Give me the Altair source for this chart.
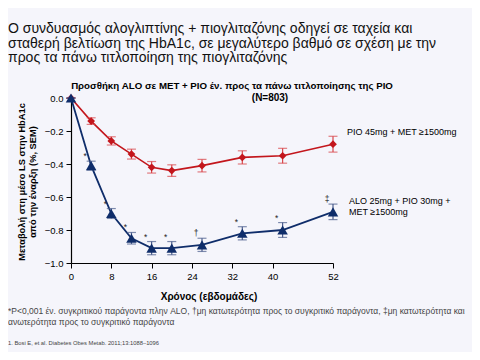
import altair as alt
import pandas as pd

weeks = [0, 4, 8, 12, 16, 20, 26, 34, 42, 52]
pio_mean = [0.0, -0.14, -0.26, -0.34, -0.42, -0.44, -0.41, -0.36, -0.35, -0.28]
pio_sem = [0.0, 0.02, 0.025, 0.03, 0.035, 0.035, 0.038, 0.04, 0.045, 0.048]
alo_mean = [0.0, -0.41, -0.70, -0.85, -0.91, -0.91, -0.89, -0.82, -0.80, -0.69]
alo_sem = [0.0, 0.027, 0.03, 0.035, 0.04, 0.04, 0.04, 0.04, 0.045, 0.047]
alo_marks = ["", "*", "*", "*", "*", "*", "†", "*", "*", "‡"]
x_ticks = [0, 8, 16, 24, 32, 40, 52]
y_ticks = [0.0, -0.2, -0.4, -0.6, -0.8, -1.0]

heading = ("Ο συνδυασμός αλογλιπτίνης + πιογλιταζόνης οδηγεί σε ταχεία και\n"
           "σταθερή βελτίωση της HbA1c, σε μεγαλύτερο βαθμό σε σχέση με την\n"
           "προς τα πάνω τιτλοποίηση της πιογλιταζόνης")
title1 = "Προσθήκη ALO σε MET + PIO έν. προς τα πάνω τιτλοποίησης της PIO"
title2 = "(N=803)"
ytitle = "Μεταβολή στη μέσο LS στην HbA1c\nαπό την έναρξη (%, SEM)"
xtitle = "Χρόνος (εβδομάδες)"
label_pio = "PIO 45mg + MET ≥1500mg"
label_alo = "ALO 25mg + PIO 30mg +\nMET ≥1500mg"
footnote = ("*P<0,001 έν.  συγκριτικού  παράγοντα  πλην ALO, †μη κατωτερότητα  προς το συγκριτικό παράγοντα,  ‡μη κατωτερότητα  και\n"
            "ανωτερότητα  προς το συγκριτικό παράγοντα")
reference = "1. Bosi E,  et al. Diabetes Obes Metab. 2011;13:1088–1096"

FONT = "Liberation Sans"
RED, RED_E = "#C3161C", "#D9474C"
BLUE, BLUE_E = "#0F2D6A", "#4A5C8C"

pio = pd.DataFrame({"week": weeks, "mean": pio_mean, "sem": pio_sem})
pio["lo"] = pio["mean"] - pio["sem"]
pio["hi"] = pio["mean"] + pio["sem"]
alo = pd.DataFrame({"week": weeks, "mean": alo_mean, "sem": alo_sem, "mark": alo_marks})
alo["lo"] = alo["mean"] - alo["sem"]
alo["hi"] = alo["mean"] + alo["sem"]

xs = alt.Scale(domain=[0, 52], nice=False)
ys = alt.Scale(domain=[-1.0, 0.0], nice=False)
common_axis = dict(grid=False, labelFontSize=9.5, tickSize=5, labelPadding=3,
                   labelOverlap=False, labelFlush=False, labelBound=False, title=None)
XAXIS = alt.Axis(values=x_ticks, **common_axis)
YAXIS = alt.Axis(values=y_ticks, format=".1f", **common_axis)


def xq():
    return alt.X("week:Q", scale=xs, axis=XAXIS, title=None)


def yq(field):
    return alt.Y(field, scale=ys, axis=YAXIS, title=None)


def series(df, color, ecolor, shape, size, lw):
    base = alt.Chart(df)
    line = base.mark_line(color=color, strokeWidth=lw).encode(x=xq(), y=yq("mean:Q"))
    rule = base.mark_rule(color=ecolor, strokeWidth=1.2).encode(
        x=xq(), y=yq("lo:Q"), y2="hi:Q")
    cap_lo = base.mark_tick(color=ecolor, orient="horizontal", size=9, thickness=1.2).encode(
        x=xq(), y=yq("lo:Q"))
    cap_hi = base.mark_tick(color=ecolor, orient="horizontal", size=9, thickness=1.2).encode(
        x=xq(), y=yq("hi:Q"))
    pts = base.mark_point(shape=shape, filled=True, color=color, size=size, opacity=1).encode(
        x=xq(), y=yq("mean:Q"))
    return [line, rule, cap_lo, cap_hi, pts]


stars = alt.Chart(alo).mark_text(font=FONT, fontSize=8.5, color="#222", dx=-6, dy=-5,
                                 baseline="middle").encode(
    x=xq(), y=yq("hi:Q"), text="mark:N")


def txt(s, x, y, size, weight="normal", align="left", baseline="alphabetic", angle=0,
        color="#000", lh=None, style="normal"):
    kw = dict(font=FONT, fontSize=size, fontWeight=weight, align=align, baseline=baseline,
              color=color, fontStyle=style, lineBreak="\n")
    if angle:
        kw["angle"] = angle
    if lh:
        kw["lineHeight"] = lh
    return alt.Chart(pd.DataFrame({"t": [s]})).mark_text(**kw).encode(
        text="t:N", x=alt.value(x), y=alt.value(y))


texts = [
    txt(heading, -63, -65, 14, lh=14.6, color="#111"),
    txt(title1, 161, -9, 9.7, weight="bold", align="center"),
    txt(title2, 199, 3, 10, weight="bold", align="center"),
    txt(ytitle, -49, 84, 9.3, weight="bold", align="center", baseline="middle", angle=270, lh=11),
    txt(xtitle, 138, 199, 10, weight="bold", align="center", baseline="middle"),
    txt(label_pio, 276, 34, 9, baseline="middle"),
    txt(label_alo, 278, 99, 9, baseline="top", lh=11),
    txt(footnote, -63, 216, 8.5, color="#444", lh=11),
    txt(reference, -63, 247, 5.8, color="#444"),
]

layers = series(pio, RED, RED_E, "diamond", 60, 1.6) + \
         series(alo, BLUE, BLUE_E, "triangle-up", 110, 1.8) + [stars] + texts

chart = alt.layer(*layers).properties(
    width=262, height=165,
    autosize=alt.AutoSizeParams(type="none"),
    padding={"left": 63, "top": 90, "right": 139, "bottom": 89},
    background="#F5F5FB",
).configure_view(stroke=None).configure_axis(
    domainColor="#000", tickColor="#000", labelColor="#000", labelFont=FONT,
    domainWidth=1.2, tickWidth=1, labelOverlap=False
)

chart.save("out.html", embed_options={"renderer": "svg", "actions": False})
